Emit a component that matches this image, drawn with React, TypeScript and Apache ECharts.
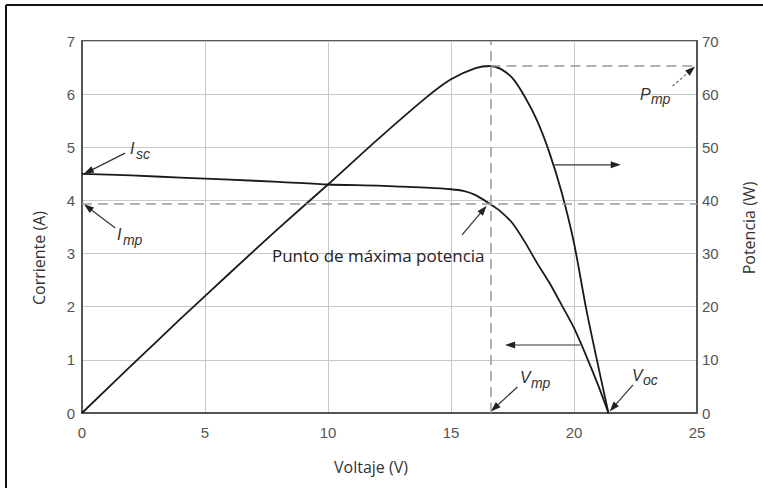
import React, { useEffect, useRef } from "react";
import * as echarts from "echarts";

// I-V curve (Voltaje V, Corriente A)
const voltage = [0, 2, 4, 6, 8, 10, 12, 13, 14, 15, 15.5, 16, 16.6, 17, 17.5, 18, 18.5, 19, 19.5, 20, 20.5, 21, 21.4];
const current = [4.5, 4.47, 4.43, 4.39, 4.35, 4.3, 4.28, 4.26, 4.24, 4.21, 4.18, 4.1, 3.93, 3.8, 3.57, 3.22, 2.82, 2.45, 2.03, 1.6, 1.07, 0.5, 0];

// P-V curve (Voltaje V, Potencia W)
const powerVoltage = [0, 2, 4, 6, 8, 10, 12, 14, 15, 16, 16.6, 17, 17.5, 18, 18.5, 19, 19.5, 20, 20.5, 21, 21.4];
const power = [0, 8.9, 17.7, 26.3, 34.8, 43, 51.4, 59.4, 62.8, 64.9, 65.3, 64.8, 63, 59.5, 55, 49, 41.5, 32, 19.5, 8.5, 0];

// Maximum power point
const Vmp = 16.6;
const Imp = 3.93;
const Pmp = 65.3;

const xTicks = { min: 0, max: 25, interval: 5 };
const leftTicks = { min: 0, max: 7, interval: 1 };
const rightTicks = { min: 0, max: 70, interval: 10 };

// annotation arrows in data coordinates (V, A): [fromV, fromI, toV, toI, dashed]
const arrows: [number, number, number, number, boolean][] = [
  [1.75, 4.89, 0.08, 4.5, false],
  [1.35, 3.48, 0.08, 3.93, false],
  [15.45, 3.35, 16.45, 3.9, false],
  [24.0, 6.15, 24.92, 6.52, true],
  [17.7, 0.49, 16.62, 0.03, false],
  [22.4, 0.53, 21.45, 0.03, false],
  [19.2, 4.67, 21.9, 4.67, false],
  [20.25, 1.28, 17.2, 1.28, false],
];

// italic symbol labels: [main, subscript, V, I]
const symbolLabels: [string, string, number, number][] = [
  ["I", "sc", 1.95, 4.97],
  ["I", "mp", 1.42, 3.35],
  ["P", "mp", 22.68, 6.0],
  ["V", "mp", 17.8, 0.66],
  ["V", "oc", 22.36, 0.715],
];

const mppText = "Punto de máxima potencia";
const mppTextPos = [7.72, 2.97];

export default function App() {
  const ref = useRef<HTMLDivElement>(null);
  useEffect(() => {
    const chart = echarts.init(ref.current!, null, { renderer: "svg" });
    const tickFont = { fontSize: 15, color: "#555", fontFamily: "Liberation Sans" };
    const axisLine = { show: true, lineStyle: { color: "#555", width: 2 } };
    const option: any = {
      animation: false,
      grid: { left: 82, right: 66, top: 41, bottom: 75, show: true, borderColor: "#555", borderWidth: 2, outerBoundsMode: "none" },
      xAxis: {
        type: "value",
        ...xTicks,
        axisLine,
        axisTick: { show: false },
        splitLine: { show: true, lineStyle: { color: "#c8c8c8", width: 1 } },
        axisLabel: { ...tickFont, margin: 12 },
      },
      yAxis: [
        {
          type: "value",
          position: "left",
          ...leftTicks,
          axisLine,
          axisTick: { show: false },
          splitLine: { show: true, lineStyle: { color: "#c8c8c8", width: 1 } },
          axisLabel: { ...tickFont, margin: 7 },
        },
        {
          type: "value",
          position: "right",
          ...rightTicks,
          axisLine,
          axisTick: { show: false },
          splitLine: { show: false },
          axisLabel: { ...tickFont, margin: 5 },
        },
      ],
      series: [
        {
          type: "line",
          name: "Corriente",
          data: voltage.map((v, k) => [v, current[k]]),
          smooth: 0.25,
          symbol: "none",
          lineStyle: { color: "#1a1a1a", width: 1.8 },
          markLine: {
            silent: true,
            symbol: "none",
            label: { show: false },
            lineStyle: { color: "#999", type: [10, 6], width: 1.5 },
            data: [{ yAxis: Imp }, { xAxis: Vmp }],
          },
        },
        {
          type: "line",
          name: "Potencia",
          yAxisIndex: 1,
          data: powerVoltage.map((v, k) => [v, power[k]]),
          smooth: 0.25,
          symbol: "none",
          lineStyle: { color: "#1a1a1a", width: 1.8 },
          markLine: {
            silent: true,
            symbol: "none",
            label: { show: false },
            lineStyle: { color: "#999", type: [10, 6], width: 1.5 },
            data: [[{ coord: [Vmp, Pmp] }, { coord: [xTicks.max, Pmp] }]],
          },
        },
      ],
    };
    chart.setOption(option);

    const px = (v: number, i: number) => chart.convertToPixel({ seriesIndex: 0 }, [v, i]) as number[];
    const graphic: any[] = [];
    // outer frame
    graphic.push({ type: "line", shape: { x1: 6, y1: 5, x2: 6, y2: 488 }, style: { stroke: "#111", lineWidth: 2 } });
    graphic.push({ type: "line", shape: { x1: 6, y1: 5, x2: 763, y2: 5 }, style: { stroke: "#111", lineWidth: 2 } });

    arrows.forEach(([v1, i1, v2, i2, dashed]) => {
      const a = px(v1, i1);
      const b = px(v2, i2);
      const dx = b[0] - a[0];
      const dy = b[1] - a[1];
      const len = Math.hypot(dx, dy);
      const ux = dx / len;
      const uy = dy / len;
      const L = 10;
      const W = 3.5;
      const bx = b[0] - ux * L;
      const by = b[1] - uy * L;
      graphic.push({
        type: "line",
        shape: { x1: a[0], y1: a[1], x2: b[0] - ux * L * 0.5, y2: b[1] - uy * L * 0.5 },
        style: { stroke: dashed ? "#666" : "#333", lineWidth: 1.2, lineDash: dashed ? [3, 2] : null },
      });
      graphic.push({
        type: "polygon",
        shape: { points: [[b[0], b[1]], [bx - uy * W, by + ux * W], [bx + uy * W, by - ux * W]] },
        style: { fill: "#222" },
      });
    });

    symbolLabels.forEach(([main, sub, v, i]) => {
      const p = px(v, i);
      graphic.push({
        type: "text",
        x: p[0],
        y: p[1],
        style: { text: main, fontSize: 16, fontStyle: "italic", fontFamily: "Liberation Sans", fill: "#333", align: "left", verticalAlign: "middle" },
      });
      graphic.push({
        type: "text",
        x: p[0] + (main === "I" ? 6 : 11),
        y: p[1] + 5,
        style: { text: sub, fontSize: 14, fontStyle: "italic", fontFamily: "Liberation Sans", fill: "#333", align: "left", verticalAlign: "middle" },
      });
    });

    const mp = px(mppTextPos[0], mppTextPos[1]);
    graphic.push({
      type: "text",
      x: mp[0],
      y: mp[1],
      style: { text: mppText, fontSize: 17, fontFamily: "Open Sans", fill: "#222", align: "left", verticalAlign: "middle" },
    });

    graphic.push({
      type: "text",
      x: 39,
      y: 258,
      rotation: Math.PI / 2,
      style: { text: "Corriente (A)", fontSize: 16, fontFamily: "Open Sans", fill: "#333", align: "center", verticalAlign: "middle" },
    });
    graphic.push({
      type: "text",
      x: 749,
      y: 228,
      rotation: Math.PI / 2,
      style: { text: "Potencia (W)", fontSize: 16, fontFamily: "Open Sans", fill: "#333", align: "center", verticalAlign: "middle" },
    });
    graphic.push({
      type: "text",
      x: 371,
      y: 467,
      style: { text: "Voltaje (V)", fontSize: 16, fontFamily: "Open Sans", fill: "#333", align: "center", verticalAlign: "middle" },
    });

    chart.setOption({ graphic });
    return () => chart.dispose();
  }, []);
  return <div ref={ref} style={{ position: "absolute", left: 0, top: 0, width: 763, height: 488 }} />;
}
